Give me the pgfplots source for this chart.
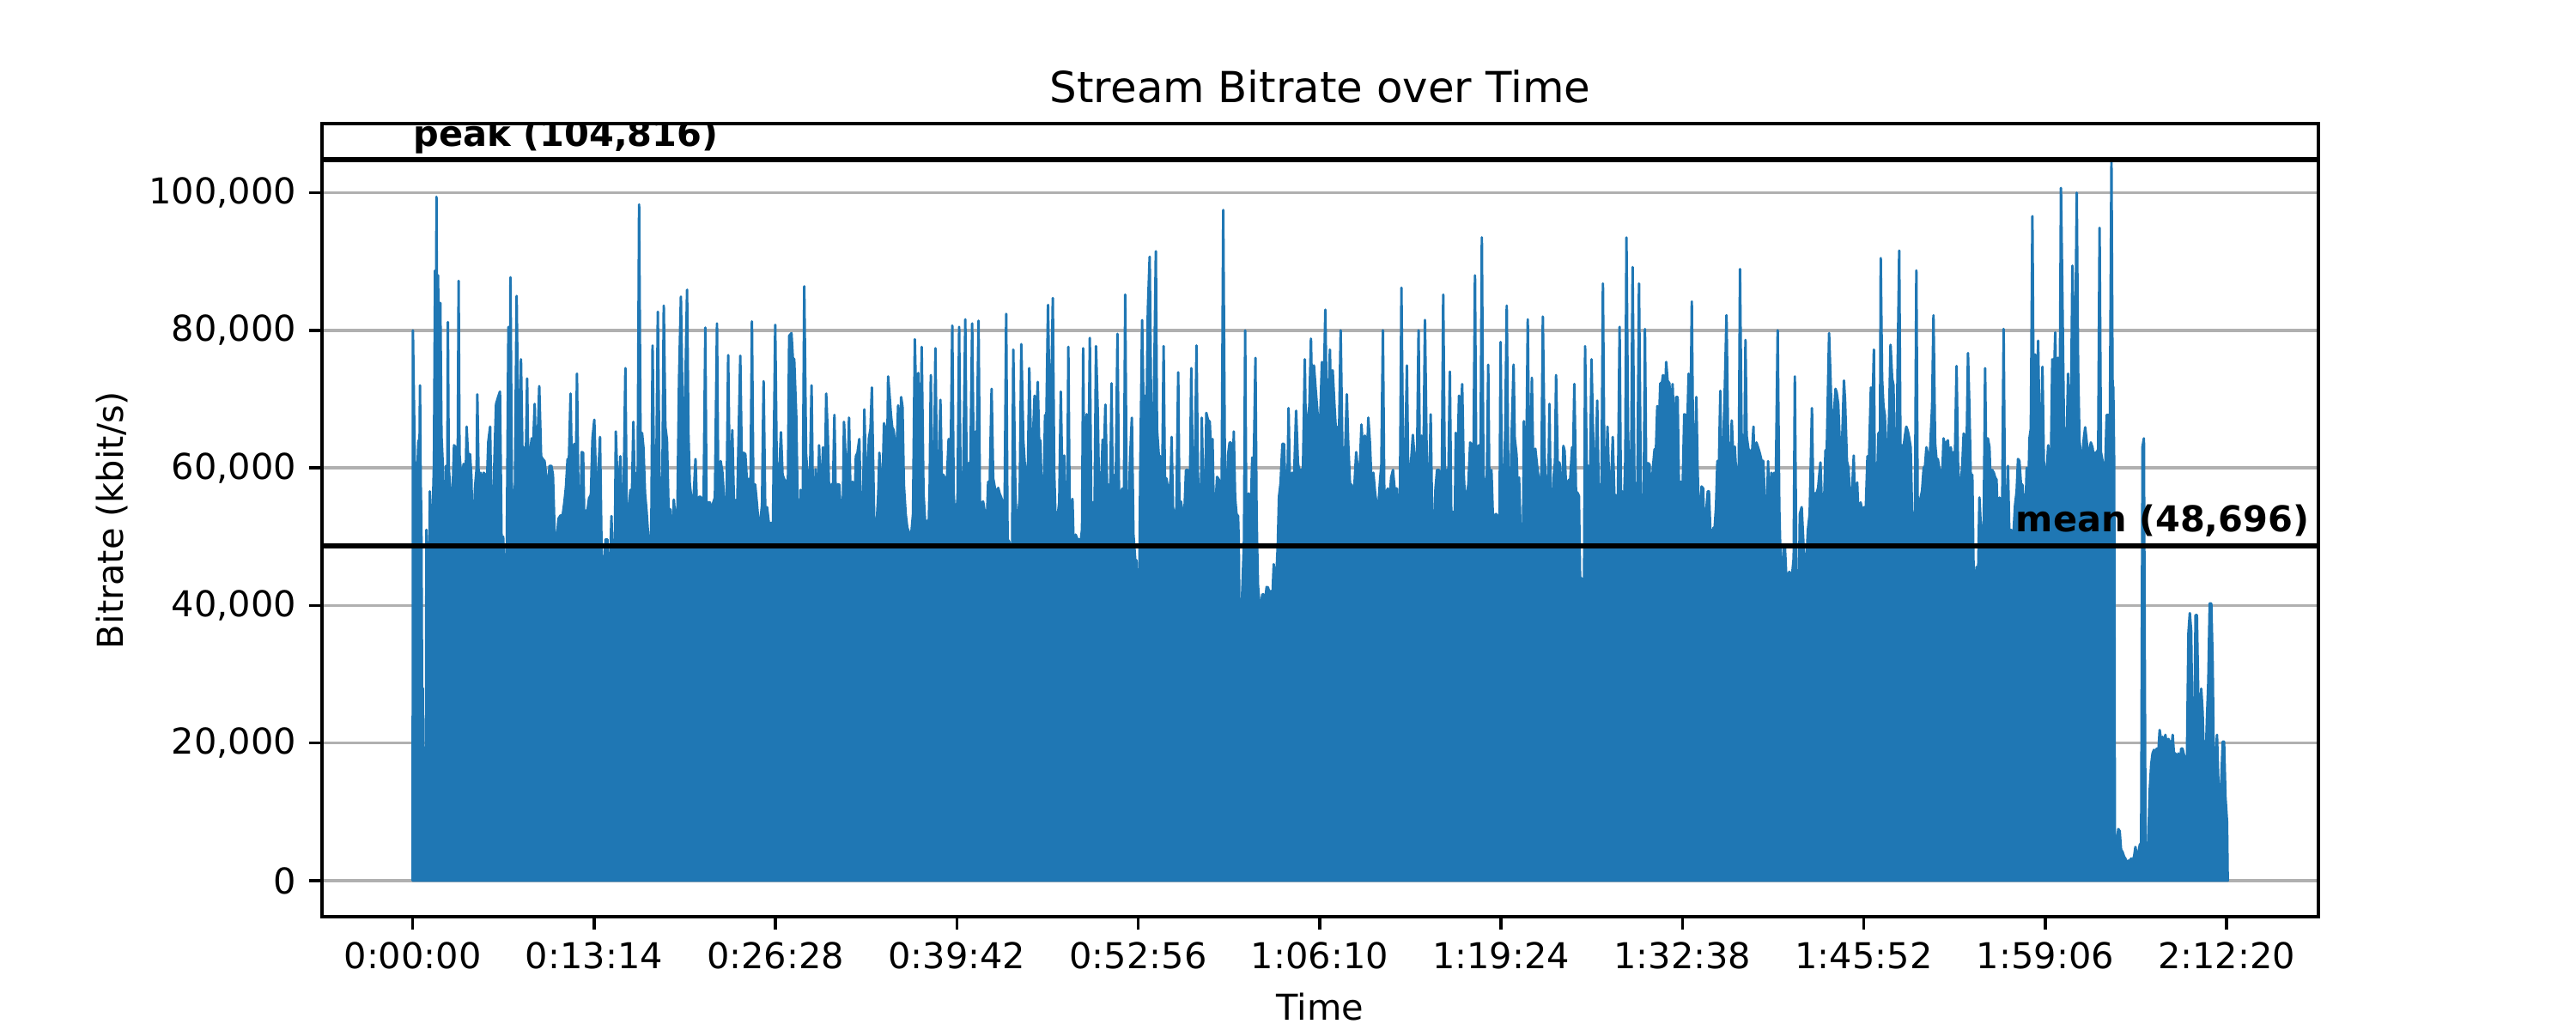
\documentclass[border=0pt]{standalone}
\usepackage{fontspec}
\setmainfont{DejaVu Sans}
\usepackage{pgfplots}
\pgfplotsset{compat=1.18}
\definecolor{mplblue}{HTML}{1F77B4}
\definecolor{gridgray}{HTML}{B0B0B0}
\begin{document}
\begin{tikzpicture}
\path[use as bounding box] (0,0) rectangle (10in,4in);
\begin{axis}[
  at={(1.25in,0.44in)}, anchor=south west,
  scale only axis, width=7.75in, height=3.08in,
  xmin=-397, xmax=8342, ymin=-5241, ymax=110057,
  axis line style={line width=0.8pt},
  tick align=outside, tick pos=left,
  major tick length=3.5pt,
  every tick/.style={black, line width=0.8pt},
  xtick={0,794,1588,2382,3176,3970,4764,5558,6352,7146,7940},
  xticklabels={0:00:00,0:13:14,0:26:28,0:39:42,0:52:56,1:06:10,1:19:24,1:32:38,1:45:52,1:59:06,2:12:20},
  ytick={0,20000,40000,60000,80000,100000},
  yticklabels={0,{20,000},{40,000},{60,000},{80,000},{100,000}},
  scaled y ticks=false,
  ymajorgrids, grid style={gridgray, line width=0.8pt},
  tick label style={font=\fontsize{10}{12}\selectfont, inner sep=0pt},
  xticklabel style={anchor=north, yshift=-3.5pt},
  yticklabel style={anchor=east, xshift=-3.5pt},
  title={Stream Bitrate over Time},
  every axis title/.style={at={(axis description cs:0.5,1.026)}, anchor=base, font=\fontsize{12}{14}\selectfont, inner sep=0pt},
  xlabel={Time},
  every axis x label/.style={at={(axis description cs:0.5,-0.1299)}, anchor=base, font=\fontsize{10}{12}\selectfont, inner sep=0pt},
  ylabel={Bitrate (kbit/s)},
  every axis y label/.style={at={(axis description cs:-0.105,0.5)}, rotate=90, anchor=center, font=\fontsize{10}{12}\selectfont, inner sep=0pt},
]
\addplot[draw=mplblue, fill=mplblue, line width=0.7pt, line join=round] coordinates {
(0,0)(1,80000)(10,59000)(20,59000)(25,64000)(29,59000)(32,72000)(35,58000)(38,52000)(41,28000)(44,28000)(47,13500)(58,13000)(60,51000)(67,44200)(73,44500)(75,56600)(80,50000)(85,50000)(93,60600)(98,88700)(102,70000)(104,99400)(107,75000)(111,88000)(116,70000)(121,84000)(126,64700)(132,60300)(136,45000)(141,50000)(146,60300)(151,52000)(154,81200)(158,60000)(163,57600)(167,51600)(173,54300)(181,63300)(188,63000)(193,57000)(197,60000)(201,87200)(205,62000)(211,59300)(217,59000)(223,60600)(230,55000)(236,66000)(242,62000)(251,62000)(257,58700)(263,48300)(273,57300)(280,60000)(283,70700)(288,60000)(292,57600)(298,59300)(305,57000)(311,59300)(317,59000)(324,57000)(331,63800)(339,66000)(345,52300)(351,52600)(359,62800)(365,69300)(374,70300)(382,71100)(389,49600)(396,50000)(405,43000)(411,45000)(419,80500)(424,60000)(428,87700)(434,57000)(440,56300)(446,51600)(455,85000)(461,67700)(468,63000)(474,75800)(480,63000)(486,63000)(494,58700)(501,73000)(508,54700)(514,62300)(521,64300)(528,64000)(534,69300)(540,61000)(547,64000)(554,71900)(562,61700)(569,61300)(577,61000)(584,59000)(593,57000)(599,60300)(607,60300)(614,59000)(622,49600)(631,49600)(638,52600)(647,53100)(656,53000)(664,55000)(671,57300)(678,61300)(684,61300)(691,70800)(699,55000)(707,63500)(713,55000)(719,73700)(727,51600)(733,51300)(740,62300)(746,62200)(752,51000)(758,53800)(765,53800)(772,55600)(780,56100)(787,64300)(795,67000)(802,58700)(812,58700)(820,64500)(827,47600)(835,44000)(844,49600)(852,49600)(857,43600)(862,43300)(870,53000)(877,44300)(882,36300)(889,65300)(897,57300)(902,57000)(909,61700)(915,54300)(922,53000)(931,74500)(937,53300)(945,53600)(953,56800)(959,55000)(966,66700)(973,55000)(979,58600)(985,59700)(991,98300)(998,61000)(1004,65100)(1010,63000)(1017,56300)(1024,53600)(1032,49600)(1038,43600)(1045,53100)(1050,77800)(1058,54600)(1065,54600)(1073,82700)(1082,54000)(1092,54000)(1099,83600)(1106,66000)(1113,64100)(1120,54000)(1128,54000)(1136,47600)(1143,55400)(1151,52000)(1158,52000)(1166,73000)(1174,84900)(1182,67300)(1191,67100)(1201,85900)(1207,65000)(1213,57600)(1221,55300)(1229,55300)(1238,61300)(1246,52300)(1253,55800)(1261,55800)(1267,54000)(1273,54000)(1281,80400)(1286,54300)(1293,55000)(1301,55000)(1308,53800)(1316,55000)(1323,55700)(1332,81000)(1338,55000)(1348,61000)(1356,59300)(1364,55000)(1374,55000)(1381,76400)(1389,55000)(1399,65500)(1406,55300)(1414,55300)(1421,55400)(1434,76300)(1441,59700)(1449,62200)(1456,62000)(1464,57600)(1471,58400)(1479,57600)(1485,81300)(1491,57600)(1499,57600)(1506,55100)(1514,52000)(1521,52000)(1529,54600)(1536,72600)(1544,52000)(1551,54300)(1559,52000)(1566,52000)(1577,52000)
(1587,80800)(1594,59000)(1602,57600)(1612,65200)(1619,59000)(1627,58300)(1637,58000)(1642,55700)(1648,79200)(1658,79600)(1664,76000)(1670,75800)(1679,67500)(1687,50300)(1692,45000)(1698,56800)(1707,52300)(1714,86400)(1722,62000)(1729,58800)(1737,55000)(1746,72000)(1752,55000)(1758,53300)(1764,59800)(1772,49900)(1779,63300)(1787,54300)(1796,63000)(1802,51900)(1810,70800)(1817,64700)(1825,53300)(1832,57600)(1840,57600)(1846,67700)(1852,55600)(1860,57600)(1867,57600)(1875,52900)(1882,52600)(1888,66700)(1896,60700)(1902,55000)(1910,67300)(1917,55000)(1925,58000)(1932,52300)(1940,61700)(1947,62200)(1955,64200)(1962,53300)(1971,53300)(1977,68500)(1985,57400)(1990,57600)(1997,64300)(2004,65700)(2010,71700)(2015,61700)(2021,51000)(2030,51300)(2038,56300)(2043,62200)(2050,57600)(2056,56300)(2063,66500)(2069,65700)(2075,56300)(2081,73300)(2088,70300)(2093,67900)(2099,65900)(2105,65500)(2113,63000)(2119,63100)(2125,69100)(2132,60000)(2138,70300)(2144,68900)(2150,57600)(2158,53300)(2165,51300)(2173,50600)(2183,50600)(2190,53300)(2198,78700)(2206,66300)(2213,73800)(2221,55300)(2228,77600)(2236,56300)(2243,52300)(2251,52300)(2257,49600)(2263,57600)(2268,73500)(2276,53600)(2282,57000)(2288,77400)(2296,55700)(2303,59000)(2310,69900)(2316,59000)(2323,59000)(2331,58300)(2338,58000)(2346,64200)(2353,56300)(2362,80700)(2368,56300)(2376,51600)(2385,55700)(2392,80500)(2400,51300)(2407,51300)(2419,81600)(2425,57600)(2434,60700)(2441,59700)(2449,81000)(2456,59300)(2464,65300)(2470,65300)(2477,81400)(2484,50300)(2491,55000)(2497,55100)(2504,53600)(2511,50300)(2519,58000)(2526,58000)(2534,71500)(2541,58500)(2549,57000)(2555,56300)(2563,57100)(2569,56300)(2576,55700)(2583,55000)(2590,50300)(2598,82400)(2604,49600)(2611,49300)(2619,47600)(2623,43600)(2629,77200)(2637,59000)(2644,49600)(2652,53600)(2657,55700)(2664,78000)(2673,64000)(2679,60700)(2687,58700)(2693,60000)(2699,74500)(2707,63000)(2714,63300)(2722,70500)(2729,65700)(2736,72500)(2742,64000)(2748,64000)(2756,51000)(2762,55700)(2768,67700)(2774,67700)(2781,83700)(2788,68300)(2794,68300)(2802,84700)(2808,59700)(2814,52600)(2822,52600)(2830,55000)(2837,71100)(2845,55300)(2852,61800)(2860,46900)(2865,51600)(2870,77600)(2877,48300)(2882,49600)(2888,55500)(2895,46300)(2902,50300)(2910,49600)(2917,49600)(2925,49600)(2930,51100)(2935,77400)(2942,46300)(2950,67800)(2957,55000)(2964,78900)(2970,55000)(2977,55000)(2985,55000)(2991,77700)(2999,67800)(3005,55000)(3012,55700)(3020,64100)(3027,63000)(3032,69200)(3040,57000)(3048,57600)(3053,55000)(3059,72300)(3065,54300)(3073,59000)(3078,59000)(3085,79500)(3093,52000)(3099,56300)(3106,57000)(3113,54300)(3119,85200)(3126,50000)(3133,51300)(3140,61300)(3148,67300)(3155,50300)(3163,46600)(3168,46600)(3174,40600)(3180,40900)(3185,60300)
(3193,81500)(3199,69100)(3205,70500)(3212,66600)(3218,83000)(3226,90700)(3233,66700)(3243,66000)(3253,91500)(3258,65700)(3266,61800)(3271,61700)(3276,56600)(3281,58600)(3287,77700)(3293,57000)(3299,58500)(3306,57000)(3312,56300)(3318,58600)(3322,64500)(3328,54300)(3336,52300)(3343,54300)(3351,73900)(3356,55000)(3363,55100)(3371,53300)(3378,53600)(3385,59700)(3393,59700)(3401,53600)(3408,74500)(3416,56300)(3423,57000)(3431,77800)(3437,59300)(3444,53600)(3450,53600)(3454,67300)(3460,57600)(3466,49300)(3474,68000)(3481,67000)(3489,66700)(3494,62700)(3501,64200)(3506,55000)(3514,54300)(3521,58700)(3529,58300)(3535,56700)(3541,56300)(3548,97500)(3556,56300)(3564,56300)(3569,61900)(3576,63700)(3581,63700)(3588,51300)(3594,65300)(3600,55700)(3606,53300)(3613,53000)(3616,49300)(3620,33600)(3626,37300)(3634,44600)(3639,49600)(3644,80000)(3649,52300)(3654,53300)(3659,56300)(3664,55100)(3669,54300)(3675,61500)(3682,61300)(3689,76000)(3694,53000)(3700,43000)(3707,39900)(3713,39900)(3719,41600)(3725,41600)(3732,40900)(3738,42700)(3744,42600)(3750,41900)(3757,42100)(3763,40900)(3769,46000)(3776,43600)(3782,45300)(3787,49000)(3792,55800)(3799,57800)(3807,63500)(3814,63500)(3822,55100)(3828,55300)(3834,68700)(3842,53600)(3850,59300)(3857,57600)(3867,68300)(3875,60700)(3882,59300)(3890,59800)(3897,59700)(3905,75800)(3911,61700)(3917,67000)(3925,69000)(3932,78800)(3938,68300)(3945,74900)(3952,71700)(3960,68300)(3967,65600)(3972,66600)(3980,75400)(3987,70000)(3995,83000)(4001,67700)(4007,67000)(4015,77200)(4020,69000)(4027,74200)(4035,69000)(4042,65000)(4050,66000)(4055,65300)(4062,80000)(4070,61700)(4077,57600)(4082,63000)(4089,70700)(4095,63700)(4103,57600)(4110,57600)(4116,49300)(4123,58000)(4130,62300)(4138,59300)(4145,59300)(4153,66300)(4160,62300)(4168,64700)(4175,59000)(4183,67300)(4190,63700)(4198,57000)(4205,59300)(4213,56300)(4220,54600)(4228,55000)(4235,58500)(4240,60300)(4247,80000)(4253,56000)(4260,56300)(4268,57000)(4276,55000)(4283,58600)(4291,59700)(4298,57000)(4308,57000)(4316,51300)(4321,53600)(4328,86200)(4336,58300)(4341,64000)(4346,64000)(4352,74900)(4358,58600)(4364,58300)(4371,61300)(4378,64800)(4385,61700)(4391,57000)(4397,63300)(4403,80000)(4410,57000)(4416,64700)(4423,56300)(4431,81500)(4438,63300)(4446,50900)(4456,67800)(4463,51600)(4471,50900)(4477,57000)(4484,59700)(4491,59700)(4496,59500)(4504,54300)(4511,85200)(4517,61700)(4521,54300)(4527,59700)(4534,59700)(4540,74000)(4546,53600)(4554,53600)(4561,50900)(4566,65100)(4574,61100)(4580,70500)(4586,65000)(4594,72200)(4601,59000)(4609,53300)(4615,56300)(4621,57600)(4629,63700)(4636,63300)(4643,59300)(4650,88000)(4656,57000)(4661,63000)(4668,63300)(4674,59300)(4680,93500)(4687,59000)(4694,57600)(4700,53300)(4708,75000)(4714,53300)(4722,59700)(4728,53300)(4734,53000)(4742,53300)(4749,53000)(4757,49600)(4762,78300)(4768,55300)(4774,55000)(4782,64700)(4789,83600)(4797,54600)(4804,53000)
(4809,63000)(4819,75000)(4824,64300)(4832,61900)(4837,56900)(4843,58600)(4849,51300)(4857,51300)(4859,45400)(4864,66800)(4872,51300)(4881,81600)(4887,60700)(4894,63700)(4899,73100)(4907,55700)(4914,62800)(4922,60300)(4928,58600)(4935,56600)(4941,59700)(4947,82000)(4955,61700)(4960,57800)(4966,54600)(4972,59700)(4976,69300)(4982,53300)(4988,53300)(4995,59000)(5000,60800)(5005,73500)(5012,60800)(5020,60800)(5027,56600)(5032,56300)(5037,63200)(5042,62500)(5050,56300)(5055,57600)(5060,58200)(5067,58400)(5075,63000)(5080,63000)(5085,72200)(5092,56600)(5100,56300)(5105,55900)(5110,44000)(5116,44000)(5123,39900)(5127,38900)(5132,77700)(5139,60400)(5145,60300)(5153,56300)(5160,75800)(5166,66300)(5173,57600)(5179,60400)(5185,69800)(5191,57600)(5198,57600)(5204,57000)(5210,86800)(5216,61300)(5223,57600)(5230,66000)(5238,57000)(5245,56300)(5253,64500)(5260,56100)(5268,56000)(5275,53600)(5283,80500)(5289,54800)(5295,56600)(5302,54600)(5308,61300)(5313,93500)(5320,65300)(5325,58700)(5333,57600)(5340,89200)(5348,57000)(5355,57800)(5361,57600)(5368,86800)(5376,56300)(5383,55700)(5388,52000)(5394,80200)(5401,53000)(5408,60700)(5414,60500)(5421,52000)(5428,59700)(5436,62700)(5442,62500)(5448,69000)(5456,67000)(5461,72300)(5468,72300)(5473,73500)(5481,69700)(5487,75400)(5493,72700)(5501,72300)(5508,66700)(5515,72200)(5523,63300)(5530,70300)(5537,70300)(5543,56300)(5551,58000)(5558,55700)(5566,67800)(5571,67700)(5577,62700)(5585,73700)(5592,62300)(5599,84200)(5605,62300)(5612,60300)(5619,70300)(5624,60300)(5630,53300)(5636,53300)(5642,57300)(5649,57000)(5655,47900)(5661,53300)(5669,56600)(5674,56600)(5680,51100)(5686,46900)(5693,51300)(5699,51300)(5705,54300)(5711,61000)(5718,61000)(5724,71200)(5731,46900)(5736,62300)(5744,72200)(5751,82200)(5759,61000)(5767,60300)(5774,66900)(5780,62000)(5787,63100)(5794,59000)(5799,59000)(5805,60700)(5810,88900)(5817,65000)(5824,64300)(5830,64700)(5834,78600)(5839,64700)(5847,62700)(5854,62500)(5862,61700)(5869,66000)(5874,58700)(5882,63700)(5889,63000)(5897,62100)(5904,61100)(5912,61000)(5919,55000)(5927,52300)(5933,61000)(5939,52000)(5947,59300)(5954,51600)(5959,59300)(5966,56000)(5975,80000)(5982,54300)(5988,45900)(5995,44900)(6001,48300)(6007,48300)(6013,44000)(6020,44300)(6026,44900)(6032,44300)(6038,44400)(6045,46900)(6050,73300)(6057,44300)(6062,44900)(6067,40300)(6072,53300)(6080,54300)(6085,50900)(6092,46300)(6100,45900)(6107,50900)(6115,53300)(6125,68700)(6131,55000)(6137,56300)(6145,56300)(6152,57100)(6162,60800)(6170,53300)(6177,53300)(6184,62500)(6190,62700)(6200,79600)(6206,73300)(6213,65000)(6220,67000)(6228,71500)(6233,71000)(6240,69300)(6248,62700)(6253,60000)(6259,65900)(6265,72700)(6270,69700)(6278,61000)(6285,60000)(6293,54300)(6300,56300)(6308,61800)(6315,50600)(6323,57900)(6330,51600)(6338,55000)(6345,53600)(6353,54300)(6360,53300)(6368,61700)(6375,61700)(6383,71700)(6388,65100)(6396,77200)(6400,59700)(6408,55700)(6416,65000)(6423,65300)
(6426,90500)(6432,73000)(6438,69000)(6444,67700)(6451,61300)(6457,61700)(6463,68000)(6469,77900)(6476,73000)(6482,72000)(6488,55300)(6495,63300)(6501,76800)(6507,91600)(6513,60000)(6520,63300)(6526,63000)(6532,64700)(6538,66000)(6545,65300)(6551,64300)(6557,63000)(6563,54000)(6570,43000)(6576,53600)(6582,88700)(6588,54000)(6595,55000)(6601,55700)(6607,56700)(6614,60000)(6620,60300)(6626,63000)(6632,62000)(6639,60300)(6645,64700)(6651,69000)(6657,82200)(6664,63700)(6670,61300)(6676,61300)(6682,60000)(6689,59300)(6695,58600)(6701,64300)(6708,63000)(6714,63700)(6720,64000)(6726,61300)(6733,63000)(6739,60300)(6745,62300)(6751,62000)(6758,74800)(6764,61000)(6770,56300)(6776,57600)(6783,60300)(6789,65000)(6795,64700)(6801,60300)(6808,76700)(6814,69000)(6820,59000)(6827,59000)(6833,44000)(6839,35600)(6845,45600)(6852,43600)(6858,55700)(6864,51600)(6870,49600)(6877,52300)(6883,74500)(6889,56300)(6895,64300)(6902,63000)(6908,56300)(6914,59700)(6921,59300)(6927,58600)(6933,58300)(6939,51000)(6946,55700)(6952,50300)(6958,55300)(6964,80200)(6971,49600)(6977,49600)(6983,60300)(6989,50300)(6996,51000)(7002,49600)(7008,51000)(7014,54600)(7021,56600)(7027,61300)(7033,61000)(7040,57600)(7046,57600)(7052,55000)(7058,51900)(7065,60000)(7071,54600)(7077,64300)(7083,65700)(7090,96600)(7096,65700)(7102,76500)(7108,62300)(7115,78500)(7121,65700)(7127,61000)(7134,74700)(7140,61000)(7146,59000)(7152,59000)(7159,63300)(7165,57600)(7171,61000)(7177,75800)(7184,72700)(7190,79700)(7196,68300)(7202,76000)(7209,65700)(7215,100700)(7221,85600)(7228,66300)(7234,63000)(7240,63700)(7246,73700)(7253,65000)(7259,68300)(7265,89400)(7271,78400)(7278,78400)(7284,100000)(7290,74700)(7296,64000)(7303,61700)(7309,61300)(7315,64300)(7321,65900)(7328,63700)(7334,61700)(7340,62700)(7346,63700)(7353,63000)(7359,61300)(7365,62200)(7372,62300)(7378,62700)(7384,94900)(7390,62300)(7397,61000)(7403,60300)(7409,60300)(7415,67700)(7422,67700)(7428,60300)(7436,104816)(7441,72000)(7444,71700)(7448,60300)(7451,4500)(7459,5500)(7466,7500)(7472,7200)(7478,4500)(7484,4200)(7491,3500)(7497,3200)(7503,2500)(7509,2900)(7516,2900)(7522,3200)(7528,2900)(7535,3500)(7541,4900)(7547,3500)(7553,3900)(7560,5200)(7566,5500)(7572,63100)(7578,64300)(7585,5500)(7591,5500)(7597,4900)(7603,12900)(7610,16900)(7616,18500)(7622,19000)(7628,18800)(7635,19200)(7641,18500)(7647,21900)(7654,20200)(7660,20900)(7666,19500)(7672,21200)(7679,19500)(7685,20600)(7691,20200)(7697,18800)(7704,21200)(7710,18200)(7716,18500)(7722,16600)(7729,18500)(7735,15500)(7741,19200)(7747,19200)(7754,18200)(7760,16200)(7766,16600)(7773,36000)(7779,38900)(7785,36300)(7791,19500)(7798,18800)(7804,38600)(7810,38600)(7816,26900)(7823,20200)(7829,27900)(7835,24500)(7842,16200)(7848,16900)(7854,23600)(7860,28900)(7866,40300)(7873,40300)(7879,31600)(7885,13500)(7892,17500)(7898,21200)(7904,14200)(7910,13500)(7916,13800)(7923,20200)(7929,20200)(7935,12200)(7942,8500)(7945,0)
} \closedcycle;
\addplot[black, line width=1.5pt] coordinates {(-397,104816) (8342,104816)};
\addplot[black, line width=1.5pt] coordinates {(-397,48696) (8342,48696)};
\node[anchor=base west, inner sep=0pt, yshift=3.8pt, font=\bfseries\fontsize{10}{12}\selectfont] at (axis cs:0,104816) {peak (104,816)};
\node[anchor=base east, inner sep=0pt, yshift=3.8pt, font=\bfseries\fontsize{10}{12}\selectfont] at (axis cs:8305,48696) {mean (48,696)};
\end{axis}
\end{tikzpicture}
\end{document}
